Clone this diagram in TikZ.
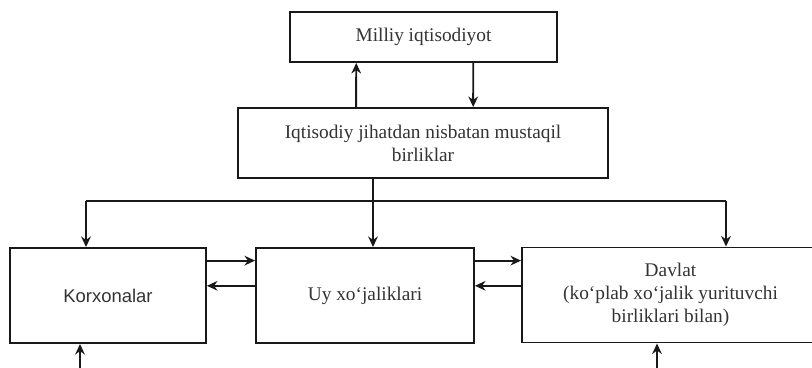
\documentclass[tikz,border=0pt]{standalone}
\usepackage{fontspec}
\setmainfont{Liberation Serif}
\newfontfamily\boxsans{Liberation Sans}
\usetikzlibrary{arrows.meta,calc}

\tikzset{
  blockbox/.style={draw=black!90, line width=1.1pt, rectangle, inner sep=2pt,
                   align=center, text=black!80, font=\fontsize{11}{13}\selectfont},
  flow arrow/.style={-{Stealth[length=6pt,width=5.5pt]}, black!90, line width=1.1pt},
  flow line/.style={black!90, line width=1.1pt},
}

\begin{document}
\begin{tikzpicture}[x=0.02cm, y=-0.02cm]
    % frame: 812 x 368 units, y runs downwards
    \useasboundingbox (0,0) rectangle (812,368);

    % --- upper level ---
    \node[blockbox, minimum width=5.34cm, minimum height=1cm]
        (milliy) at (423.5,37) {Milliy iqtisodiyot};
    \node[blockbox, minimum width=7.4cm, minimum height=1.4cm]
        (birlik) at (423,143) {Iqtisodiy jihatdan nisbatan mustaqil\\birliklar};

    % --- lower level: three units ---
    \node[blockbox, minimum width=3.92cm, minimum height=1.9cm,
          font=\boxsans\fontsize{10.5}{13}\selectfont]
        (korx) at (108,295.5) {Korxonalar};
    \node[blockbox, minimum width=4.36cm, minimum height=1.9cm]
        (uy) at (365,295.5) {Uy xo‘jaliklari};
    \node[blockbox, minimum width=5.94cm, minimum height=1.9cm]
        (davlat) at (670.5,295) {Davlat\\(ko‘plab xo‘jalik yurituvchi\\birliklari bilan)};

    % --- milliy <-> birlik ---
    \draw[flow arrow] ($(birlik.north west)!0.32!(birlik.north east)$)
        -- ($(milliy.south west)!0.25!(milliy.south east)$);
    \draw[flow arrow] ($(milliy.south west)!0.685!(milliy.south east)$)
        -- ($(birlik.north west)!0.635!(birlik.north east)$);

    % --- birlik -> three units ---
    \coordinate (split) at (373,201);
    \coordinate (jl) at (86,201);
    \coordinate (jr) at (726,201);
    \draw[flow line] (birlik.south -| split) -- (split);
    \draw[flow line] (jl) -- (jr);
    \draw[flow arrow] (jl) -- (jl |- korx.north);
    \draw[flow arrow] (split) -- (split |- uy.north);
    \draw[flow arrow] (jr) -- (jr |- davlat.north);

    % --- exchanges between units ---
    \coordinate (kup) at ($(korx.north east)!0.14!(korx.south east)$);
    \coordinate (kdn) at ($(korx.north east)!0.4!(korx.south east)$);
    \coordinate (uup) at ($(uy.north east)!0.14!(uy.south east)$);
    \coordinate (udn) at ($(uy.north east)!0.4!(uy.south east)$);
    \draw[flow arrow] (kup) -- (kup -| uy.west);
    \draw[flow arrow] (kdn -| uy.west) -- (kdn);
    \draw[flow arrow] (uup) -- (uup -| davlat.west);
    \draw[flow arrow] (udn -| davlat.west) -- (udn);

    % --- inputs from below ---
    \coordinate (ink) at (80,368);
    \coordinate (ind) at (657,368);
    \draw[flow arrow] (ink) -- (ink |- korx.south);
    \draw[flow arrow] (ind) -- (ind |- davlat.south);
\end{tikzpicture}
\end{document}
